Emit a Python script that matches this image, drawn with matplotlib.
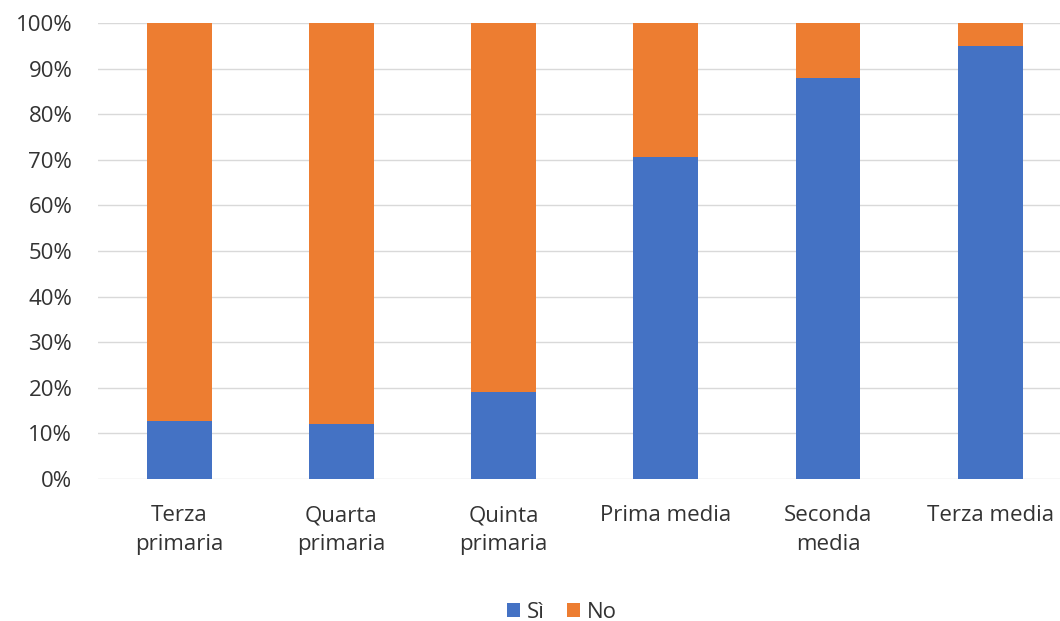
import matplotlib.pyplot as plt
from matplotlib.ticker import PercentFormatter

categories = ["Terza\nprimaria", "Quarta\nprimaria", "Quinta\nprimaria",
              "Prima media", "Seconda\nmedia", "Terza media"]
si = [12.8, 12.1, 19.1, 70.7, 88.0, 94.9]
no = [100 - v for v in si]

BLUE = "#4472C4"
ORANGE = "#ED7D31"
TEXT = "#333333"

plt.rcParams["font.family"] = ["Open Sans", "DejaVu Sans"]

fig = plt.figure(figsize=(10.6, 6.21), dpi=100)
ax = fig.add_axes([98 / 1060, 1 - 479 / 621, 1 - 98 / 1060, (479 - 23) / 621])

x = range(len(categories))
ax.bar(x, si, width=0.4, color=BLUE, label="Sì", zorder=3)
ax.bar(x, no, width=0.4, bottom=si, color=ORANGE, label="No", zorder=3)

ax.set_ylim(0, 100)
ax.set_xlim(-0.5, 5.43)
ax.set_yticks(range(0, 101, 10))
ax.yaxis.set_major_formatter(PercentFormatter(decimals=0))
ax.set_xticks(list(x))
ax.set_xticklabels(categories, linespacing=1.45)
ax.grid(axis="y", color="#d9d9d9", linewidth=1.0, zorder=0)
ax.tick_params(axis="both", length=0, labelsize=16, colors=TEXT)
ax.tick_params(axis="x", pad=19)
ax.tick_params(axis="y", pad=18.5)
for s in ax.spines.values():
    s.set_visible(False)

fig.legend(loc="lower center", bbox_to_anchor=(0.53, -0.035), ncol=2,
           frameon=False, fontsize=16, handlelength=0.6, handleheight=0.6,
           handletextpad=0.3, columnspacing=1.0, labelcolor=TEXT)

fig.savefig("out.png", dpi=100)
